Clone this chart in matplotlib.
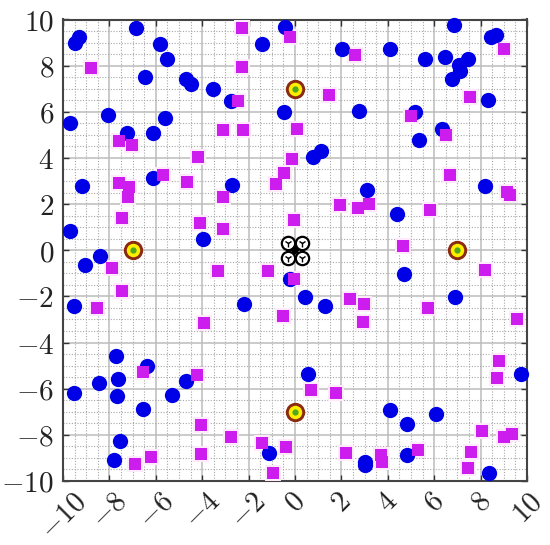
import numpy as np
import matplotlib
matplotlib.use('Agg')
import matplotlib.pyplot as plt
from matplotlib.ticker import MultipleLocator

# blue circles
circle_x = [-9.3, -9.5, -6.85, -5.82, -5.5, -6.48, -4.71, -4.48, -3.52, -2.77, -1.44, -8.07,
            -9.7, -5.62, -7.24, -6.1, -9.17, -6.1, -2.73, -9.71, -3.97, -8.4, -9.04,
            -0.43, 6.85, 8.65, 8.45, 2.04, 4.09, 5.59, 6.48, 7.47, 7.07, 7.1, 6.75, 8.33,
            -0.49, 2.76, 5.17, 6.35, 5.33, 1.12, 0.78, 3.09, 8.2, 4.38, 4.71, -0.22,
            -9.54, -2.2, -7.73, -6.36, -7.63, -8.46, -4.71, -9.54, -7.69, -5.3, -6.54,
            -7.53, -7.8, -1.14, 0.57, 0.43, 1.29, 6.91, 9.74, 4.09, 4.81, 6.09, 4.81,
            3.03, 3.03, 8.35]
circle_y = [9.25, 8.96, 9.62, 8.93, 8.28, 7.51, 7.41, 7.2, 7.0, 6.45, 8.93, 5.84,
            5.53, 5.72, 5.09, 5.07, 2.77, 3.14, 2.82, 0.82, 0.49, -0.23, -0.62,
            9.68, 9.74, 9.34, 9.22, 8.71, 8.71, 8.28, 8.38, 8.29, 8.02, 7.77, 7.43, 6.52,
            5.98, 6.04, 5.98, 5.25, 4.78, 4.31, 4.02, 2.63, 2.77, 1.59, -1.01, -1.23,
            -2.43, -2.31, -4.57, -5.03, -5.58, -5.77, -5.65, -6.17, -6.32, -6.26, -6.89,
            -8.27, -9.07, -8.8, -5.38, -2.02, -2.43, -2.01, -5.36, -6.91, -7.51, -7.09, -8.86,
            -9.18, -9.3, -9.67]

# magenta squares
square_x = [-2.28, -8.78, -2.28, -2.47, -3.1, -2.24, -7.59, -7.03, -4.18, -5.7, -4.67, -7.59,
            -7.16, -7.2, -3.1, -7.44, -4.09, -3.12, -7.89, -3.32, -1.15, -0.8,
            -0.23, 2.6, 9.01, 1.48, 7.54, 0.09, 5.01, 6.49, -0.14, -0.47, 6.7, 9.12, 9.27,
            1.94, 2.72, 3.17, 5.82, -0.03, 4.64, 8.19, -0.03,
            -7.46, -8.55, -3.92, -6.54, -4.24, -4.04, -2.77, -1.44, -4.05, -6.21, -6.88, -0.95,
            -0.53, 2.39, 2.99, 2.92, 5.73, 9.58, 8.81, 8.72, 0.69, 1.75, -0.39, 2.18, 3.71,
            3.74, 5.3, 7.6, 8.06, 7.47, 9.01, 9.35]
square_y = [9.62, 7.88, 7.95, 6.45, 5.2, 5.19, 4.74, 4.54, 4.05, 3.25, 2.96, 2.9,
            2.72, 2.31, 2.31, 1.4, 1.18, 0.94, -0.75, -0.9, -0.9, 2.85,
            9.25, 8.44, 8.7, 6.72, 6.65, 5.26, 5.82, 4.99, 3.95, 3.35, 3.24, 2.51, 2.4,
            1.98, 1.82, 2.01, 1.76, 1.31, 0.17, -0.87, -1.25,
            -1.78, -2.5, -3.15, -5.29, -5.42, -7.57, -8.09, -8.34, -8.82, -8.94, -9.28, -9.64,
            -2.83, -2.11, -2.34, -3.11, -2.5, -2.96, -4.78, -5.53, -6.04, -6.17, -8.53, -8.8, -8.86,
            -9.16, -8.66, -8.76, -7.85, -9.44, -8.08, -7.98]

# targets and drone
target_x = [-7, 0, 0, 7]
target_y = [0, 7, -7, 0]
rotor_x = [-0.32, 0.32, -0.32, 0.32]
rotor_y = [0.32, 0.32, -0.32, -0.32]

ticks = np.arange(-10, 11, 2)
tick_labels = ['$%d$' % t for t in ticks]

plt.rcParams['mathtext.fontset'] = 'cm'

fig = plt.figure(figsize=(5.5, 5.45), dpi=100)
ax = fig.add_axes([63 / 550, 64 / 545, 464 / 550, 461.5 / 545])

# pale halo round the squares, then the squares on top
ax.plot(square_x, square_y, 's', color='#ffeafc', ms=12, mew=0, zorder=3, clip_on=False)
ax.plot(circle_x, circle_y, 'o', color='#0000e6', ms=11, mew=0, zorder=4, clip_on=False)
ax.plot(square_x, square_y, 's', color='#cc1cee', ms=8.6, mew=0, zorder=5, clip_on=False)

ax.plot(target_x, target_y, 'o', color='#ffee00', ms=11.8, mec='#8a2a10', mew=2.1, zorder=6)
ax.plot(target_x, target_y, 'o', color='#50a81e', ms=4.5, mew=0, zorder=7)

# drone
for i in [0, 3]:
    ax.plot([rotor_x[i], rotor_x[3 - i]], [rotor_y[i], rotor_y[3 - i]], color='black', lw=1.5, zorder=8)
ax.plot(rotor_x, rotor_y, 'o', mfc='white', mec='black', ms=9.6, mew=1.6, zorder=8)
ax.plot(rotor_x, rotor_y, '1', color='black', ms=5.5, mew=1, zorder=9)
ax.plot([0], [0], 'D', color='black', ms=5, mew=0, zorder=10)

ax.set_xlim(-10, 10)
ax.set_ylim(-10, 10)
ax.set_xticks(ticks)
ax.set_yticks(ticks)
ax.set_xticklabels(tick_labels, rotation=45, ha='center')
ax.set_yticklabels(tick_labels)
ax.xaxis.set_minor_locator(MultipleLocator(0.5))
ax.yaxis.set_minor_locator(MultipleLocator(0.5))
ax.grid(which='major', color='#bcbcbc', lw=1.1, ls='-')
ax.grid(which='minor', color='#a8a8a8', lw=0.8, ls=(0, (1, 1.5)))
ax.set_axisbelow(True)
ax.tick_params(which='major', direction='in', top=True, right=True, length=4, width=1,
               color='#333333', labelsize=21, labelcolor='#222222')
ax.tick_params(axis='y', which='major', pad=6.5)
ax.tick_params(axis='x', which='major', pad=4.5)
ax.tick_params(which='minor', length=0)
for s in ax.spines.values():
    s.set_linewidth(1.5)
    s.set_color('#444444')

fig.savefig('out.png', dpi=100)
plt.close(fig)
